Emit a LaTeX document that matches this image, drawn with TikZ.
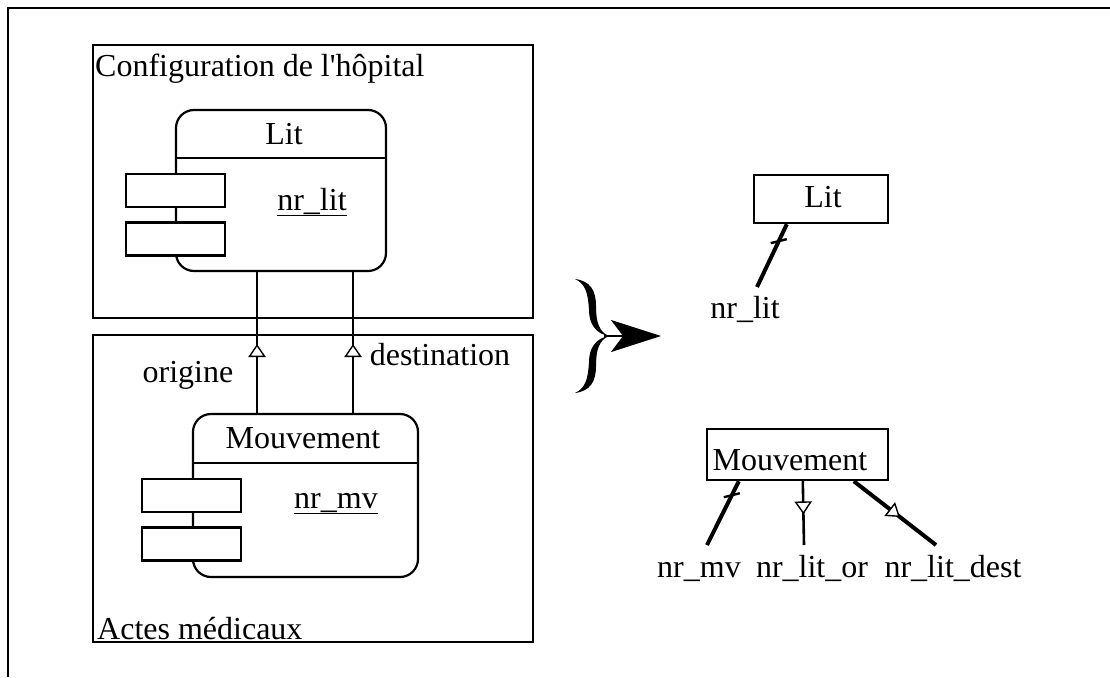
\documentclass[tikz,border=0pt]{standalone}
\usepackage{fontspec}
\setmainfont{Liberation Serif}
\usetikzlibrary{arrows.meta,decorations.markings,calc}
\begin{document}
\begin{tikzpicture}[x=1pt,y=-1pt,
  txt/.style={inner sep=0pt,anchor=base,font=\fontsize{32}{36}\selectfont},
  txtw/.style={inner sep=0pt,anchor=base west,font=\fontsize{32}{36}\selectfont},
  frame/.style={draw,line width=2.2pt,inner sep=0pt},
  cls/.style={draw,line width=2.2pt,rounded corners=18pt,inner sep=0pt},
  port/.style={draw,fill=white,line width=2.2pt,inner sep=0pt,minimum width=99pt,minimum height=33pt},
  ent/.style={draw,line width=2.4pt,inner sep=0pt},
  link/.style={line width=2pt},
  thick attr/.style={line width=4pt},
  thin attr/.style={line width=2.6pt},
  upmark/.style={postaction={decorate},decoration={markings,mark=at position #1 with {\draw[fill=white,line width=1.4pt,line join=miter] (0,0) -- (-11,7.5) -- (-11,-7.5) -- cycle;}}},
  tickstyle/.style={line width=2.4pt}
]
\useasboundingbox (0,0) rectangle (1110,677);
% outer frame
\draw[line width=2.2pt] (8,677) -- (8,8) -- (1110,8);

% left: package frames
\node[frame,minimum width=440pt,minimum height=273pt] (cfg) at (313,181.5) {};
\node[frame,minimum width=440pt,minimum height=307pt] (acts) at (313,488.5) {};
\node[txtw] (cfgl) at (95,77) {Configuration de l\textquotesingle h\^opital};
\node[txtw] (actsl) at (97,639) {Actes m\'edicaux};

% Lit class
\node[cls,minimum width=210pt,minimum height=161pt] (lit) at (281,190.5) {};
\draw[line width=2.2pt] (lit.west |- 0,158) -- (lit.east |- 0,158);
\node[txt] (litn) at (284,144) {Lit};
\node[port] (lp1) at (175.5,190.5) {};
\node[port] (lp2) at (175.5,239) {};
\node[txt] (nrlitA) at (312,210) {\underline{nr\_lit}};

% Mouvement class
\node[cls,minimum width=225pt,minimum height=163pt] (mv) at (305.5,495.5) {};
\draw[line width=2.2pt] (mv.west |- 0,463) -- (mv.east |- 0,463);
\node[txt] (mvn) at (303,448) {Mouvement};
\node[port] (mp1) at (191.5,495.5) {};
\node[port] (mp2) at (191.5,544) {};
\node[txt] (nrmvA) at (336,508) {\underline{nr\_mv}};

% associations
\coordinate (xo) at (257,0);
\coordinate (xd) at (353,0);
\draw[link,upmark=0.48] (mv.north -| xo) -- (lit.south -| xo);
\draw[link,upmark=0.48] (mv.north -| xd) -- (lit.south -| xd);
\node[txt] (orig) at (188,382) {origine};
\node[txt] (dest) at (440,365) {destination};

% brace and arrow
\fill (575,279) .. controls (590,281) and (596,290) .. (596,306)
  .. controls (596,322) and (599,332) .. (609,336)
  .. controls (596,334) and (589,324) .. (589,310)
  .. controls (588,294) and (586,284) .. (575,279) -- cycle;
\fill (575,393) .. controls (590,391) and (596,382) .. (596,366)
  .. controls (596,350) and (599,340) .. (609,336)
  .. controls (596,338) and (589,348) .. (589,362)
  .. controls (588,378) and (586,388) .. (575,393) -- cycle;
\coordinate (bt) at (604,336);
\coordinate (at) at (661,336);
\draw[line width=2.5pt,-{Stealth[length=50pt,width=32pt,inset=12pt]}] (bt) -- (at);

% right: relational schema
\node[ent,minimum width=134pt,minimum height=48pt] (litR) at (821,199) {};
\node[txt] (litRl) at (823,207) {Lit};
\node[txt] (nrlitB) at (745,318) {nr\_lit};
\coordinate (l1a) at ($(litR.south west)+(34,0)$);
\coordinate (l1b) at ($(nrlitB.base)+(12,-31)$);
\draw[thick attr] (l1a) -- (l1b);
\draw[tickstyle] ($(l1a)!0.27!(l1b)+(-8,2)$) -- ++(16,-4);

\node[ent,minimum width=181pt,minimum height=51pt] (mvR) at (797.5,454.5) {};
\node[txt] (mvRl) at (790,470) {Mouvement};
\node[txt] (nrmvB) at (699,577) {nr\_mv};
\node[txt] (nrlor) at (812,577) {nr\_lit\_or};
\node[txt] (nrldest) at (953,577) {nr\_lit\_dest};

\coordinate (m1a) at ($(mvR.south west)+(33,0)$);
\coordinate (m1b) at ($(nrmvB.base)+(8,-32)$);
\draw[thick attr] (m1a) -- (m1b);
\draw[tickstyle] ($(m1a)!0.22!(m1b)+(-8,2)$) -- ++(16,-4);

\coordinate (m2a) at ($(mvR.south west)+(97,0)$);
\coordinate (m2b) at ($(nrlor.base)+(-8,-32)$);
\draw[thin attr,upmark=0.5] (m2a) -- (m2b);

\coordinate (m3a) at ($(mvR.south west)+(148,0)$);
\coordinate (m3b) at ($(nrldest.base)+(-17,-32)$);
\draw[thick attr,upmark=0.55] (m3a) -- (m3b);
\end{tikzpicture}
\end{document}
